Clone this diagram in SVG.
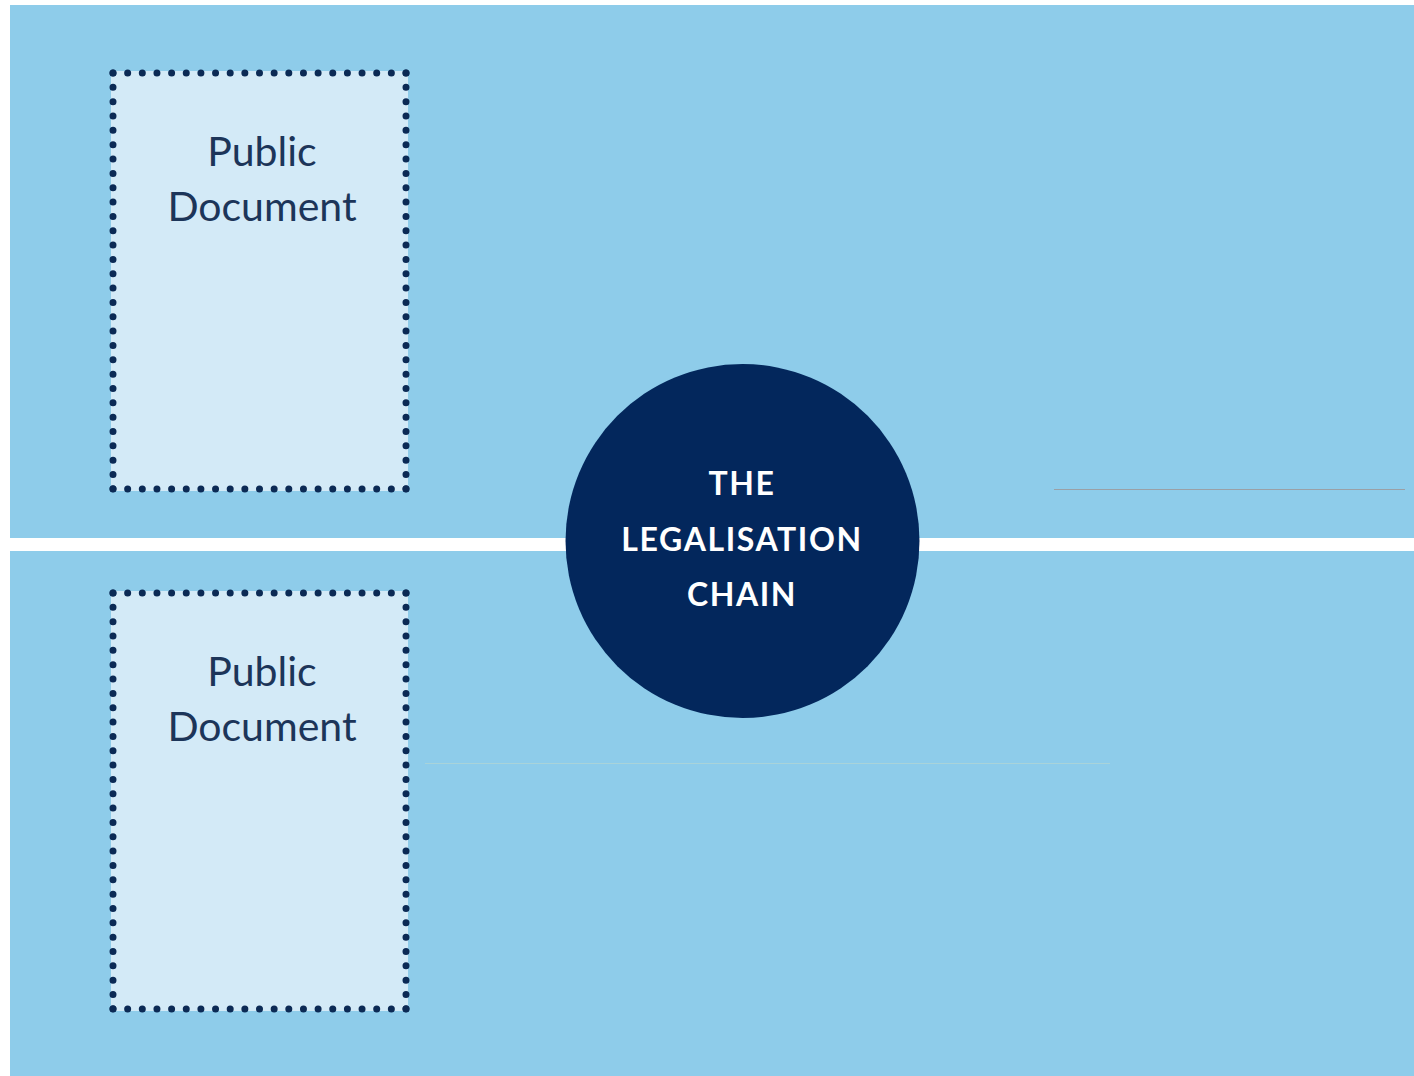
<svg xmlns="http://www.w3.org/2000/svg" width="1414" height="1076" viewBox="0 0 1414 1076">
<style>
.bg{fill:#8ECCEA}
.doc{fill:#D3EAF7}
.dots{fill:none;stroke:#0B2A55;stroke-width:7;stroke-linecap:round}
.h{stroke-dasharray:0 14.65}
.v{stroke-dasharray:0 14.34}
.lbl{font-family:Lato,"Open Sans",sans-serif;font-size:41px;fill:#1C3559;text-anchor:middle}
.ctr{font-family:Lato,"Open Sans",sans-serif;font-size:32px;font-weight:bold;fill:#FFFFFF;text-anchor:middle;letter-spacing:1.6px}
</style>
<rect x="0" y="0" width="1414" height="1076" fill="#FFFFFF"/>
<rect class="bg" x="10" y="5" width="1404" height="1071"/>
<line x1="1054" y1="489.5" x2="1405" y2="489.5" stroke="#9AA0A6" stroke-width="1"/>
<line x1="425" y1="763.5" x2="1110" y2="763.5" stroke="#A9D3D9" stroke-width="1"/>
<g id="connectors">
<rect x="10" y="538" width="1404" height="13" fill="#FFFFFF"/>
</g>
<g id="doc1">
<rect class="doc" x="111" y="71" width="297" height="420"/>
<line class="dots h" x1="113" y1="73" x2="406" y2="73"/>
<line class="dots h" x1="113" y1="489" x2="406" y2="489"/>
<line class="dots v" x1="113" y1="73" x2="113" y2="489"/>
<line class="dots v" x1="406" y1="73" x2="406" y2="489"/>
<text class="lbl" x="262" y="166">Public</text>
<text class="lbl" x="262" y="221">Document</text>
</g>
<g id="doc2">
<rect class="doc" x="111" y="591" width="297" height="420"/>
<line class="dots h" x1="113" y1="593" x2="406" y2="593"/>
<line class="dots h" x1="113" y1="1009" x2="406" y2="1009"/>
<line class="dots v" x1="113" y1="593" x2="113" y2="1009"/>
<line class="dots v" x1="406" y1="593" x2="406" y2="1009"/>
<text class="lbl" x="262" y="686">Public</text>
<text class="lbl" x="262" y="741">Document</text>
</g>
<g id="chain">
<circle cx="742.5" cy="541" r="177" fill="#03275C"/>
<text class="ctr" x="742" y="495">THE</text>
<text class="ctr" x="742" y="551">LEGALISATION</text>
<text class="ctr" x="742" y="606">CHAIN</text>
</g>
</svg>
